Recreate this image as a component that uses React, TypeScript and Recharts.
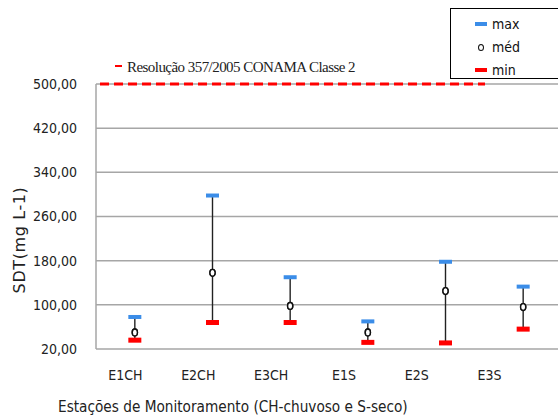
import React from "react";
import {
  ComposedChart,
  Line,
  XAxis,
  YAxis,
  CartesianGrid,
  ReferenceLine,
  ErrorBar,
} from "recharts";

const categories = ["E1CH", "E2CH", "E3CH", "E1S", "E2S", "E3S"];
const maxValues = [78, 298, 150, 70, 178, 133];
const meanValues = [50, 158, 98, 50, 125, 96];
const minValues = [36, 68, 68, 32, 31, 56];
const yTicks = [20, 100, 180, 260, 340, 420, 500];
const limitValue = 500;
const limitLabel = "Resolução 357/2005 CONAMA Classe 2";
const seriesLabels = ["max", "méd", "min"];
const yTitle = "SDT(mg L-1)";
const xTitle = "Estações de Monitoramento (CH-chuvoso e S-seco)";

const BLUE = "#3b8de8";
const RED = "#ff0000";
const GRID = "#a6a6a6";
const NARROW = '"Liberation Sans Narrow", "DejaVu Sans Condensed", "Open Sans", sans-serif';

const data = categories.map((cat, i) => ({
  cat,
  max: maxValues[i],
  mean: meanValues[i],
  min: minValues[i],
  err: [meanValues[i] - minValues[i], maxValues[i] - meanValues[i]],
}));

const cap = (color: string, h: number) => (p: any) => (
  <rect key={`c-${p.index}`} x={p.cx - 6.5} y={p.cy - h / 2} width={13} height={h} fill={color} />
);

const meanDot = (p: any) => (
  <ellipse key={`m-${p.index}`} cx={p.cx} cy={p.cy} rx={2.6} ry={3.4} fill="#fff" stroke="#111" strokeWidth={1.4} />
);

const fmt = (v: number) => v.toFixed(2).replace(".", ",");

export default function App() {
  return (
    <div style={{ position: "absolute", left: 0, top: 0, width: 558, height: 419, overflow: "hidden", background: "#fff" }}>
      <ComposedChart
        width={566}
        height={419}
        data={data}
        margin={{ top: 84, right: 4, bottom: 0, left: 0 }}
      >
        <CartesianGrid xAxisId="d" horizontal vertical={false} stroke={GRID} strokeWidth={1.5} />
        <XAxis
          xAxisId="lbl"
          dataKey="cat"
          scale="band"
          height={70}
          padding={{ left: 0, right: 29 }}
          axisLine={false}
          tickLine={false}
          tickSize={0}
          tickMargin={21}
          tick={{ fill: "#222", fontSize: 14, fontFamily: NARROW, dx: -7 }}
        />
        <XAxis xAxisId="d" dataKey="cat" scale="band" hide height={0} />
        <XAxis xAxisId="ref" dataKey="cat" scale="point" hide height={0} padding={{ left: 4, right: 77 }} />
        <YAxis
          domain={[20, 500]}
          ticks={yTicks}
          tickFormatter={fmt}
          width={96}
          axisLine={{ stroke: GRID, strokeWidth: 1.5 }}
          tickLine={false}
          tickSize={0}
          tickMargin={19}
          tick={{ fill: "#222", fontSize: 14, fontFamily: NARROW }}
        />
        <ReferenceLine
          xAxisId="ref"
          segment={[{ x: categories[0], y: limitValue }, { x: categories[categories.length - 1], y: limitValue }]}
          stroke={RED}
          strokeWidth={3}
          strokeDasharray="9 5"
        />
        <Line xAxisId="d" dataKey="mean" stroke="none" dot={meanDot} activeDot={false} isAnimationActive={false}>
          <ErrorBar dataKey="err" direction="y" width={0} stroke="#222" strokeWidth={1.4} />
        </Line>
        <Line xAxisId="d" dataKey="max" stroke="none" dot={cap(BLUE, 4)} activeDot={false} isAnimationActive={false} />
        <Line xAxisId="d" dataKey="min" stroke="none" dot={cap(RED, 5)} activeDot={false} isAnimationActive={false} />
        <Line xAxisId="d" dataKey="mean" stroke="none" dot={meanDot} activeDot={false} isAnimationActive={false} />
      </ComposedChart>

      {/* y title */}
      <div
        style={{
          position: "absolute", left: 19, top: 240, transform: "translate(-50%, -50%) rotate(-90deg)",
          whiteSpace: "nowrap", fontFamily: '"DejaVu Sans", sans-serif', fontSize: 16, letterSpacing: 0.6, color: "#222",
        }}
      >
        {yTitle}
      </div>

      {/* x title */}
      <div
        style={{
          position: "absolute", left: 58, top: 398, whiteSpace: "nowrap",
          fontFamily: NARROW, fontSize: 15.2, color: "#222",
        }}
      >
        {xTitle}
      </div>

      {/* limit legend */}
      <div style={{ position: "absolute", left: 115, top: 59, display: "flex", alignItems: "center", whiteSpace: "nowrap" }}>
        <span style={{ display: "inline-block", width: 7, height: 2, background: RED, marginRight: 5, marginBottom: 4 }} />
        <span style={{ fontFamily: '"Liberation Serif", serif', fontSize: 15, color: "#222", letterSpacing: -0.55 }}>{limitLabel}</span>
      </div>

      {/* series legend */}
      <div
        style={{
          position: "absolute", left: 450, top: 8, width: 120, height: 71, border: "1px solid #000",
          boxSizing: "border-box", background: "#fff", fontFamily: NARROW, fontSize: 14, color: "#111",
        }}
      >
        {seriesLabels.map((s, i) => (
          <div key={s} style={{ position: "absolute", left: 23, top: 5 + i * 23, height: 20, display: "flex", alignItems: "center" }}>
            <span style={{ width: 14, display: "flex", justifyContent: "center", marginRight: 4 }}>
              {i === 1 ? (
                <span style={{ width: 4, height: 5, border: "1.3px solid #111", borderRadius: "50%" }} />
              ) : (
                <span style={{ width: 12, height: 4, background: i === 0 ? BLUE : RED }} />
              )}
            </span>
            <span>{s}</span>
          </div>
        ))}
      </div>
    </div>
  );
}
